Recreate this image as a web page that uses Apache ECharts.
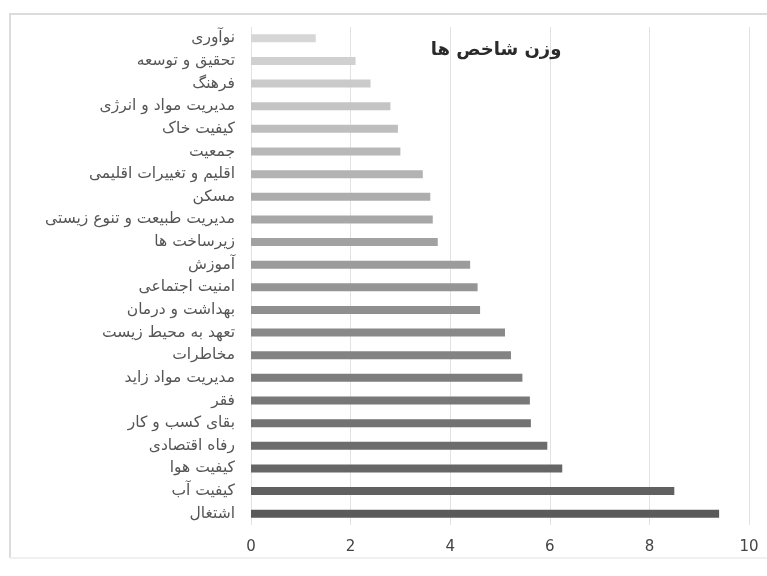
<!DOCTYPE html>
<html>
<head>
<meta charset="utf-8">
<script src="https://cdn.jsdelivr.net/npm/echarts@6/dist/echarts.min.js"></script>
<style>html,body{margin:0;padding:0;background:#fff;overflow:hidden}#c{width:767px;height:576px}</style>
</head>
<body>
<div id="c"></div>
<script>
const titleText = 'وزن شاخص ها';
const categories = ['نوآوری','تحقیق و توسعه','فرهنگ','مدیریت مواد و انرژی','کیفیت خاک','جمعیت','اقلیم و تغییرات اقلیمی','مسکن','مدیریت طبیعت و تنوع زیستی','زیرساخت ها','آموزش','امنیت اجتماعی','بهداشت و درمان','تعهد به محیط زیست','مخاطرات','مدیریت مواد زاید','فقر','بقای کسب و کار','رفاه اقتصادی','کیفیت هوا','کیفیت آب','اشتغال'];
const values = [1.3,2.1,2.4,2.8,2.95,3.0,3.45,3.6,3.65,3.75,4.4,4.55,4.6,5.1,5.22,5.45,5.6,5.62,5.95,6.25,8.5,9.4];
const xTicks = [0,2,4,6,8,10];

const chart = echarts.init(document.getElementById('c'));
const n = categories.length;
function shade(i){
  const light = 214, dark = 90;
  const v = Math.round(light + (dark - light) * (i / (n - 1)));
  return 'rgb(' + v + ',' + v + ',' + v + ')';
}
chart.setOption({
  animation: false,
  backgroundColor: '#fff',
  textStyle: { fontFamily: 'DejaVu Sans' },
  graphic: [{
    type: 'polyline', shape: { points: [[10, 558], [10, 14], [790, 14]] },
    style: { fill: 'none', stroke: '#dcdcdc', lineWidth: 2 }, silent: true, z: -1
  }, {
    type: 'line', shape: { x1: 10, y1: 558, x2: 790, y2: 558 },
    style: { stroke: '#f0f0f0', lineWidth: 2 }, silent: true, z: -1
  }],
  title: {
    text: titleText, left: 491, top: 36, textAlign: 'center',
    textStyle: { fontFamily: 'DejaVu Sans', fontSize: 18, fontWeight: 'bold', color: '#2a2a2a' }
  },
  grid: { left: 251, right: 18, top: 27, bottom: 51, containLabel: false },
  xAxis: {
    type: 'value', min: xTicks[0], max: xTicks[xTicks.length - 1], interval: 2,
    axisLine: { show: false }, axisTick: { show: false },
    axisLabel: { color: '#444', fontSize: 15, margin: 15, fontFamily: 'DejaVu Sans' },
    splitLine: { show: true, lineStyle: { color: '#e2e2e2', width: 1 } }
  },
  yAxis: {
    type: 'category', data: categories, inverse: true,
    axisLine: { show: false }, axisTick: { show: false },
    axisLabel: { color: '#555', fontSize: 15.5, margin: 16, fontFamily: 'DejaVu Sans' }
  },
  series: [{
    type: 'bar', data: values, barWidth: 8,
    itemStyle: { color: function (p) { return shade(p.dataIndex); } }
  }]
});
</script>
</body>
</html>
